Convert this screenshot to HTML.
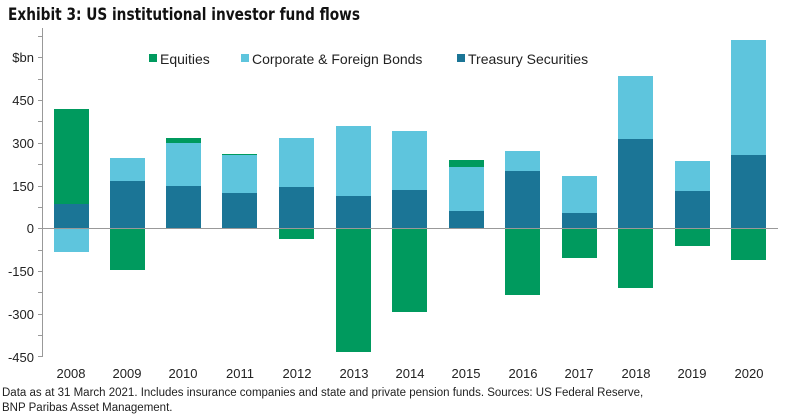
<!DOCTYPE html><html><head><style>body{margin:0;background:#fff}svg{display:block}text{font-family:"Liberation Sans",sans-serif}</style></head><body>
<svg width="800" height="415" xmlns="http://www.w3.org/2000/svg">
<text x="8" y="20" font-size="17" font-weight="bold" fill="#111" textLength="352" lengthAdjust="spacingAndGlyphs" style="font-family:'DejaVu Sans Condensed','Liberation Sans Narrow','Liberation Sans',sans-serif">Exhibit 3: US institutional investor fund flows</text>
<g fill="#1b7596">
<rect x="54" y="204" width="35" height="24"/><rect x="110" y="181" width="35" height="47"/><rect x="166" y="186" width="35" height="42"/><rect x="222" y="193" width="35" height="35"/><rect x="279" y="187" width="35" height="41"/><rect x="336" y="196" width="35" height="32"/><rect x="392" y="190" width="35" height="38"/><rect x="449" y="211" width="35" height="17"/><rect x="505" y="171" width="35" height="57"/><rect x="562" y="213" width="35" height="15"/><rect x="618" y="139" width="35" height="89"/><rect x="675" y="191" width="35" height="37"/><rect x="731" y="155" width="35" height="73"/></g>
<g fill="#5ec5dd">
<rect x="54" y="228" width="35" height="24"/><rect x="110" y="158" width="35" height="23"/><rect x="166" y="143" width="35" height="43"/><rect x="222" y="155" width="35" height="38"/><rect x="279" y="138" width="35" height="49"/><rect x="336" y="126" width="35" height="70"/><rect x="392" y="131" width="35" height="59"/><rect x="449" y="167" width="35" height="44"/><rect x="505" y="151" width="35" height="20"/><rect x="562" y="176" width="35" height="37"/><rect x="618" y="76" width="35" height="63"/><rect x="675" y="161" width="35" height="30"/><rect x="731" y="40" width="35" height="115"/></g>
<g fill="#009a5e">
<rect x="54" y="109" width="35" height="95"/><rect x="110" y="228" width="35" height="42"/><rect x="166" y="138" width="35" height="5"/><rect x="222" y="154" width="35" height="1"/><rect x="279" y="228" width="35" height="11"/><rect x="336" y="228" width="35" height="124"/><rect x="392" y="228" width="35" height="84"/><rect x="449" y="160" width="35" height="7"/><rect x="505" y="228" width="35" height="67"/><rect x="562" y="228" width="35" height="30"/><rect x="618" y="228" width="35" height="60"/><rect x="675" y="228" width="35" height="18"/><rect x="731" y="228" width="35" height="32"/></g>
<g stroke="#999" stroke-width="1">
<line x1="42.5" y1="28" x2="42.5" y2="357"/><line x1="42" y1="228.5" x2="778" y2="228.5"/>
<path d="M38 36.5h4M38 57.5h4M38 79.5h4M38 100.5h4M38 121.5h4M38 143.5h4M38 164.5h4M38 186.5h4M38 207.5h4M38 228.5h4M38 250.5h4M38 271.5h4M38 292.5h4M38 314.5h4M38 335.5h4M38 356.5h4"/></g>
<g font-size="13" fill="#222" text-anchor="end">
<text x="34" y="62">$bn</text><text x="34" y="105">450</text><text x="34" y="148">300</text><text x="34" y="191">150</text><text x="34" y="233">0</text><text x="34" y="276">-150</text><text x="34" y="319">-300</text><text x="34" y="362">-450</text></g>
<g font-size="13" fill="#222" text-anchor="middle">
<text x="71" y="378">2008</text><text x="127" y="378">2009</text><text x="183" y="378">2010</text><text x="240" y="378">2011</text><text x="297" y="378">2012</text><text x="354" y="378">2013</text><text x="410" y="378">2014</text><text x="466" y="378">2015</text><text x="523" y="378">2016</text><text x="579" y="378">2017</text><text x="636" y="378">2018</text><text x="692" y="378">2019</text><text x="749" y="378">2020</text></g>
<rect x="149" y="54" width="8" height="8" fill="#009a5e"/><text x="160" y="64" font-size="14" fill="#222">Equities</text>
<rect x="241" y="54" width="8" height="8" fill="#5ec5dd"/><text x="252" y="64" font-size="14" fill="#222">Corporate &amp; Foreign Bonds</text>
<rect x="457" y="54" width="8" height="8" fill="#1b7596"/><text x="468" y="64" font-size="14" fill="#222">Treasury Securities</text>
<text x="2" y="396" font-size="11.5" fill="#222">Data as at 31 March 2021. Includes insurance companies and state and private pension funds. Sources: US Federal Reserve,</text>
<text x="2" y="411" font-size="11.5" fill="#222">BNP Paribas Asset Management.</text>
</svg></body></html>
